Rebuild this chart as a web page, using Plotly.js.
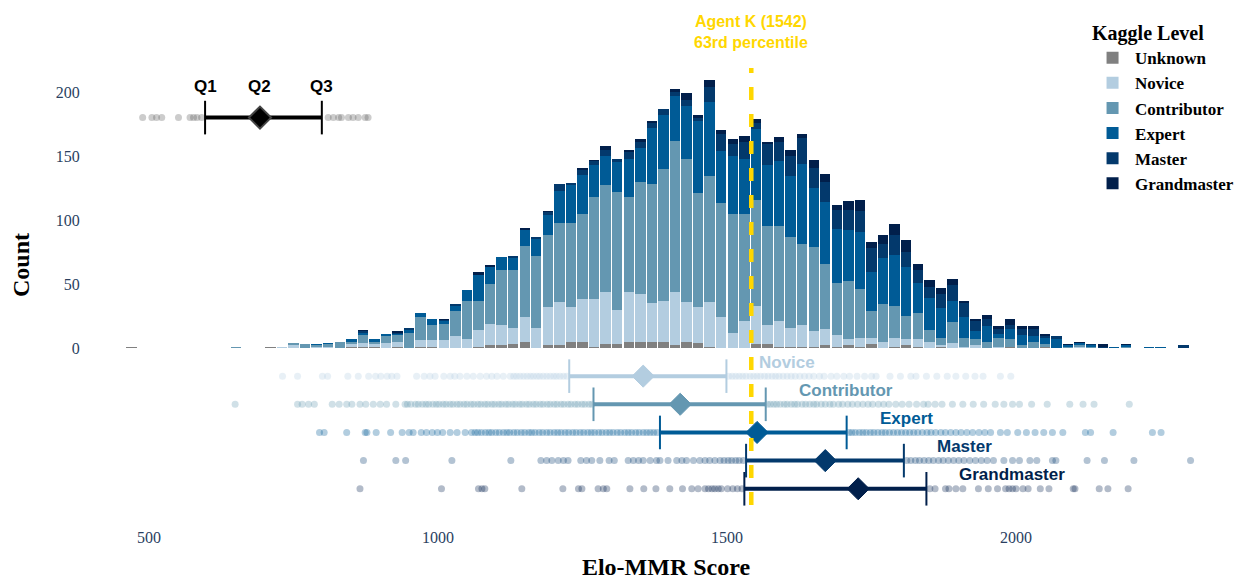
<!DOCTYPE html>
<html><head><meta charset="utf-8">
<script src="https://cdn.plot.ly/plotly-3.0.1.min.js"></script>
<style>html,body{margin:0;padding:0;background:#fff}#chart{width:1239px;height:580px}</style>
</head><body><div id="chart"></div>
<script>
// ---------------- DATA ----------------
const levels = ['Unknown','Novice','Contributor','Expert','Master','Grandmaster'];
const binWidth = 20;
const binStart = [460,640,700,720,740,760,780,800,820,840, 860,880,900,920,940,960,980,1000,1020,1040,
  1060,1080,1100,1120,1140,1160,1180,1200,1220,1240, 1260,1280,1300,1320,1340,1360,1380,1400,1420,1440,
  1460,1480,1500,1520,1540,1560,1580,1600,1620,1640, 1660,1680,1700,1720,1740,1760,1780,1800,1820,1840,
  1860,1880,1900,1920,1940,1960,1980,2000,2020,2040, 2060,2080,2100,2120,2140,2160,2180,2220,2240,2280];
const unknownCounts = [1,0,1,0,0,0,0,0,0,1, 1,1,0,1,0,1,1,0,0,0, 1,2,2,3,5,0,2,2,5,5, 1,3,3,5,5,5,5,2,5,4,
  1,0,0,0,3,3,1,1,1,1, 2,1,2,1,3,0,1,2,1,0, 1,0,0,0,0,0,1,0,0,1, 0,0,0,0,0,0,0,0,0,0];
const noviceCounts = [0,0,0,1,2,0,1,1,0,2, 3,2,4,4,0,5,5,6,9,7, 13,17,16,13,19,16,30,34,27,33, 37,41,27,39,37,30,32,42,31,28,
  35,24,12,21,30,15,20,15,17,12, 13,9,5,7,5,5,7,5,6,5, 1,4,1,2,0,1,0,0,0,0, 0,0,1,0,0,0,0,0,0,0];
const contributorCounts = [0,1,0,0,2,3,1,2,5,2, 6,2,5,5,12,18,12,13,20,30, 23,31,43,45,56,56,56,62,66,67, 80,83,92,74,88,93,103,118,112,89,
  98,89,93,84,83,77,74,71,63,66, 51,41,45,38,21,29,25,18,20,9, 6,16,7,5,5,7,6,2,5,2, 0,1,1,1,0,0,1,0,0,0];
const expertCounts = [0,0,0,0,0,0,1,1,0,2, 2,2,2,1,2,3,5,2,4,8, 20,13,10,9,12,13,16,25,29,30, 25,23,23,30,26,44,42,35,41,56,
  58,41,45,43,55,48,51,47,63,46, 48,42,40,45,30,36,40,38,24,25, 23,17,16,6,12,3,8,8,4,5, 7,1,2,1,0,1,1,1,1,0];
const masterCounts = [0,0,0,0,0,0,0,0,0,0, 1,0,0,1,2,0,0,1,1,0, 0,0,0,2,0,2,2,5,2,4, 3,5,3,5,5,4,5,3,5,3,
  12,13,9,13,5,16,15,16,20,16, 16,15,16,16,19,11,15,12,10,9, 11,12,11,8,6,4,3,5,6,1, 2,0,0,1,1,0,0,0,0,2];
const grandmasterCounts = [0,0,0,0,0,0,0,0,0,0, 1,0,0,1,0,0,0,1,0,0, 2,2,0,0,2,0,1,0,0,2, 1,3,0,2,2,1,0,2,5,2,
  5,3,4,5,3,2,4,5,3,6, 6,4,7,9,5,7,9,9,5,5, 5,5,2,2,3,2,5,2,2,2, 0,1,1,0,2,0,1,0,0,0];

// strip (per-level scores) — levels Novice..Grandmaster
const stripLevels = ['Novice','Contributor','Expert','Master','Grandmaster'];
const q1Scores = [1227, 1269, 1384, 1533, 1530];
const medianScores = [1355, 1419, 1552, 1670, 1727];
const q3Scores = [1499, 1567, 1707, 1806, 1845];
const noviceScores = [731,757,800,809,844,862,880,892,901,912,920,929,963,976,986,995,1010,1021,1029,1038,1050,1061,1073,1084,1093,1102,1113,1125,1131,1136,1142,1148,1154,1160,1165,1171,1176,1182,1188,1194,1200,1205,1211,1217,1223,
  1503,1509,1515,1521,1527,1533,1540,1546,1552,1558,1565,1571,1578,1584,1590,1597,1604,1611,1618,1626,1634,1642,1650,1660,1668,1680,1690,1702,1712,1725,1738,1750,1758,1782,1800,1818,1827,1845,1863,1881,1896,1913,1929,1943,1973,1991];
const contributorScores = [649,757,765,776,786,817,829,842,851,865,875,888,900,911,927,943,947,953,961,966,973,979,984,991,997,1002,1009,1014,1021,1026,1033,1038,1045,1050,1057,1062,1069,1074,1081,1086,1093,1098,1105,1110,1117,1122,1129,1134,1141,1146,1153,1158,1165,1170,1177,1182,1189,1194,1201,1206,1213,1218,1225,1230,1237,1242,1249,1254,1261,1266,
  1570,1575,1581,1586,1592,1599,1604,1611,1617,1622,1630,1636,1643,1650,1655,1663,1670,1678,1684,1693,1700,1709,1717,1726,1735,1744,1752,1762,1771,1780,1792,1803,1815,1828,1840,1848,1860,1872,1890,1908,1926,1944,1964,1979,1994,2006,2027,2054,2093,2116,2135,2196];
const expertScores = [795,803,842,874,877,893,918,938,950,957,971,980,990,999,1008,1021,1033,1047,1058,1064,1069,1075,1082,1088,1093,1100,1106,1113,1119,1124,1131,1137,1144,1150,1157,1162,1168,1175,1181,1188,1194,1201,1207,1213,1220,1226,1233,1239,1246,1252,1259,1265,1271,1278,1284,1291,1297,1303,1310,1316,1323,1329,1335,1342,1348,1355,1361,1367,1373,1379,
  1711,1716,1722,1729,1735,1741,1748,1754,1761,1768,1774,1781,1788,1795,1802,1809,1816,1823,1830,1838,1846,1853,1861,1870,1878,1887,1896,1905,1915,1925,1936,1946,1956,1973,1985,2003,2018,2033,2048,2063,2081,2120,2129,2168,2236,2251];
const masterScores = [871,927,944,1024,1126,1178,1188,1197,1208,1217,1225,1247,1257,1266,1280,1296,1305,1329,1338,1347,1355,1367,1378,1384,1398,1413,1422,1430,1442,1453,1462,1470,1479,1488,1495,1502,1508,1515,1521,1528,
  1811,1818,1826,1833,1841,1849,1857,1866,1874,1883,1892,1901,1910,1920,1930,1940,1950,1961,1979,1994,2006,2024,2036,2063,2069,2123,2153,2204,2302];
const grandmasterScores = [865,1006,1070,1076,1081,1145,1216,1243,1249,1277,1286,1292,1332,1356,1377,1401,1423,1439,1450,1462,1468,1474,1479,1485,1490,1501,1510,1518,1526,
  1851,1860,1878,1884,1896,1908,1935,1952,1968,1982,1988,1994,2000,2012,2021,2042,2057,2099,2102,2144,2159,2194];

// explanatory key row
const keyLabels = ['Q1','Q2','Q3'];
const keyQuartiles = [597, 692, 799];
const keyScores = [489,505,513,522,551,571,577,583,591,810,819,828,833,845,853,862,874,879];

const agentKScore = 1542;
const agentKLabel = 'Agent K (1542)<br>63rd percentile';

// ---------------- STYLE ----------------
const levelColors = ['#808080','#b3cde0','#6497b1','#005b96','#03396c','#011f4b'];
const serif = 'Liberation Serif, Times New Roman, serif';
const sans = 'Liberation Sans, Arial, sans-serif';
const rowGap = 22;      // vertical spacing of strip rows (in count units)
const keyRowY = 180;
const lineTop = 218.75, lineBottom = -122.7;

const counts = [unknownCounts, noviceCounts, contributorCounts, expertCounts, masterCounts, grandmasterCounts];
const stripScores = [noviceScores, contributorScores, expertScores, masterScores, grandmasterScores];
const binCenters = binStart.map(b => b + binWidth/2);

const traces = [];
levels.forEach((lv, i) => {
  traces.push({type:'bar', name: lv, x: binCenters, y: counts[i],
    marker:{color: levelColors[i], line:{width:0}}, hoverinfo:'skip'});
});

function stripTraces(scores, q1, med, q3, y, color, dotColor, dotOpacity, diamondLine) {
  const out = [];
  out.push({type:'scatter', mode:'markers', x: scores, y: scores.map(() => y), showlegend:false, hoverinfo:'skip',
    marker:{size:7, color: dotColor, opacity: dotOpacity, line:{width:0}}});
  out.push({type:'scatter', mode:'lines', x:[q1, q3], y:[y, y], showlegend:false, hoverinfo:'skip',
    line:{color: color, width:4}});
  out.push({type:'scatter', mode:'markers', x:[q1, q3], y:[y, y], showlegend:false, hoverinfo:'skip',
    marker:{symbol:'line-ns', size:24, line:{color: color, width:2}}});
  out.push({type:'scatter', mode:'markers', x:[med], y:[y], showlegend:false, hoverinfo:'skip',
    marker:{symbol:'diamond', size:17, color: color, line:{color: diamondLine, width: diamondLine === color ? 1 : 2}}});
  return out;
}

stripLevels.forEach((lv, i) => {
  const c = levelColors[i+1];
  traces.push(...stripTraces(stripScores[i], q1Scores[i], medianScores[i], q3Scores[i], -(i+1)*rowGap, c, c, 0.3, c));
});
traces.push(...stripTraces(keyScores, keyQuartiles[0], keyQuartiles[1], keyQuartiles[2], keyRowY, '#000', '#555', 0.3, '#444'));

const annotations = [];
stripLevels.forEach((lv, i) => {
  annotations.push({x: q3Scores[i], y: -(i+1)*rowGap, xref:'x', yref:'y', text: lv, showarrow:false,
    xanchor:'left', yanchor:'middle', xshift:31, yshift:14,
    font:{family: sans, size:17, color: levelColors[i+1], weight:'bold'}});
});
keyLabels.forEach((t, i) => {
  annotations.push({x: keyQuartiles[i], y: keyRowY, xref:'x', yref:'y', text: t, showarrow:false,
    xanchor:'center', yanchor:'middle', yshift:31, font:{family: sans, size:17, color:'#000', weight:'bold'}});
});
annotations.push({x: agentKScore, y: lineTop, xref:'x', yref:'y', text: agentKLabel, showarrow:false,
  xanchor:'center', yanchor:'bottom', yshift:15, align:'center',
  font:{family: sans, size:16, color:'#FFD700', weight:'bold'}});

const layout = {
  width:1239, height:580,
  margin:{l:100, r:7, t:10, b:60, autoexpand:false},
  paper_bgcolor:'#ffffff', plot_bgcolor:'#ffffff',
  font:{family: serif, color:'#2a3f5f', size:16},
  barmode:'stack', bargap:0.1,
  showlegend:true,
  xaxis:{range:[415.2, 2373.7], tickvals:[500,1000,1500,2000], showgrid:false, zeroline:false, showline:false,
    ticks:'outside', ticklen:3, tickcolor:'rgba(0,0,0,0)', tickfont:{family: serif, size:16, color:'#2a3f5f'},
    automargin:false,
    title:{text:'Elo-MMR Score', font:{family: serif, size:24, color:'#000', weight:'bold'}, standoff:23}},
  yaxis:{range:[-134.4, 264.06], tickvals:[0,50,100,150,200], showgrid:false, zeroline:false, showline:false,
    ticks:'outside', ticklen:16, tickcolor:'rgba(0,0,0,0)', tickfont:{family: serif, size:16, color:'#2a3f5f'},
    automargin:false,
    title:{text:'Count', font:{family: serif, size:24, color:'#000', weight:'bold'}, standoff:19}},
  legend:{x:0.8746, y:0.9918, xanchor:'left', yanchor:'top', traceorder:'normal', bgcolor:'rgba(255,255,255,0)',
    itemwidth:35,
    title:{text:'Kaggle Level', font:{family: serif, size:20, color:'#000', weight:'bold'}},
    font:{family: serif, size:17, color:'#000', weight:'bold'}},
  shapes:[{type:'line', xref:'x', yref:'y', x0: agentKScore, x1: agentKScore, y0: lineBottom, y1: lineTop,
    line:{color:'#FFD700', width:4.5, dash:'13px,14px'}, layer:'above'}],
  annotations: annotations
};

Plotly.newPlot('chart', traces, layout, {displayModeBar:false, staticPlot:true});
</script>
</body></html>
